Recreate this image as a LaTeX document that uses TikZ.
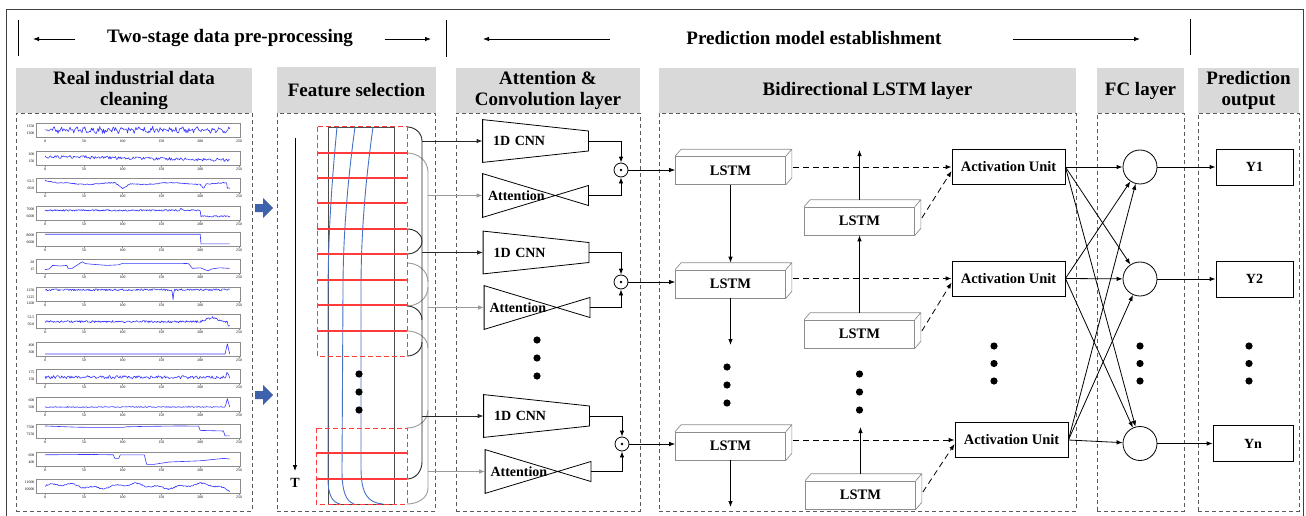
\documentclass[tikz,border=0pt]{standalone}
\usepackage{fontspec}
\setmainfont{Liberation Serif}
\usetikzlibrary{arrows.meta,calc}
\definecolor{hdrgray}{HTML}{D9D9D9}
\definecolor{dashgray}{HTML}{5A5A5A}
\definecolor{redc}{HTML}{FF3B3B}
\definecolor{curveblue}{HTML}{4472C4}
\definecolor{sigblue}{HTML}{3535FF}
\definecolor{arrowblue}{HTML}{3F62AD}
\definecolor{lstmgray}{HTML}{8C8C8C}
\definecolor{brkgray}{HTML}{9A9A9A}
\newcommand\subplt[4]{%
  \draw[axisbox] (36,#1) rectangle (240,#1+14);
  \foreach \v in {0,50,...,250}{%
    \draw[axisbox] ({45+0.776*\v},#1+14) -- ({45+0.776*\v},#1+15.5);
    \node[ticklbl] (tk#1-\v) at ({45+0.776*\v},#1+18.5) {\v};}
  \node[ticklbl,anchor=east] (ya#1) at (35,#1+3.5) {#2};
  \node[ticklbl,anchor=east] (yb#1) at (35,#1+10.5) {#3};
  \begin{scope}[shift={(45,#1+13)},x=0.776pt,y=12pt]
    \draw[sig] #4;
  \end{scope}}
\newcommand\lstmnode[3]{%
  \node[lstmbox] (#1) at (#2,#3) {LSTM};
  \draw[lstmline] (#1.north west) -- ++(6,-7) -- ($(#1.north east)+(6,-7)$) -- ($(#1.south east)+(6,-7)$) -- (#1.south east) (#1.north east) -- ++(6,-7);}
\newcommand\dotcol[3]{\fill (#1,#2) circle (3.6) (#1,#2+#3) circle (3.6) (#1,#2+2*#3) circle (3.6);}
\begin{document}
\begin{tikzpicture}[x=1pt,y=-1pt,>={Latex[length=6pt,width=4.5pt]},line width=0.8pt,
 hdr/.style={fill=hdrgray,inner sep=0pt,align=center,font=\bfseries\fontsize{19}{21}\selectfont},
 ttl/.style={inner sep=0pt,font=\bfseries\fontsize{19}{21}\selectfont},
 panel/.style={draw=dashgray,dash pattern=on 4pt off 3pt,line width=0.8pt,inner sep=0pt},
 frm/.style={draw=black!75,line width=0.9pt},
 axisbox/.style={draw=black!45,line width=0.4pt},
 ticklbl/.style={font=\fontsize{3.8}{4}\selectfont,inner sep=0.3pt},
 sig/.style={draw=sigblue,line width=0.6pt,line join=round},
 lbl/.style={font=\bfseries\fontsize{14}{16}\selectfont},
 cnnbox/.style={lbl,minimum height=42pt,text width=85pt,inner xsep=10pt,inner ysep=0pt,align=left},
 attbox/.style={lbl,minimum height=43pt,text width=95pt,inner xsep=5pt,inner ysep=0pt,align=left},
 shp/.style={draw=black,line width=0.8pt,line join=miter},
 odot/.style={circle,draw,minimum size=14pt,inner sep=0pt},
 lstmbox/.style={draw=lstmgray,line width=0.7pt,minimum width=110pt,minimum height=28pt,inner sep=0pt,font=\bfseries\fontsize{14.5}{16}\selectfont},
 lstmline/.style={draw=lstmgray,line width=0.7pt,line join=round},
 aubox/.style={draw,line width=0.8pt,minimum width=113pt,minimum height=35pt,inner sep=0pt,font=\bfseries\fontsize{14.5}{16}\selectfont},
 fcnode/.style={circle,draw,minimum size=34pt,inner sep=0pt},
 ybox/.style={draw,minimum width=77pt,minimum height=36pt,inner sep=0pt,font=\bfseries\fontsize{14}{16}\selectfont},
 dsh/.style={dash pattern=on 6pt off 4pt},
 redbox/.style={draw=redc,dash pattern=on 5pt off 3pt,line width=1pt},
 redrow/.style={draw=redc,line width=1.3pt},
 bcurve/.style={draw=curveblue,line width=0.9pt},
 brk/.style={draw=black!85,line width=0.9pt},
 brkg/.style={draw=brkgray,line width=0.9pt},
 garrow/.style={draw=brkgray,line width=0.9pt,-{Latex[length=6pt,width=4.5pt]}}]
\useasboundingbox (0,0) rectangle (1306,516);
\pgfmathsetseed{11}
% outer frame
\coordinate (fr1) at (6,516); \coordinate (fr2) at (6,9);
\coordinate (fr3) at (1303,9); \coordinate (fr4) at (1303,516);
\draw[frm] (fr1) -- (fr2) -- (fr3) -- (fr4);
% title row
\node[ttl] (tt1) at (230,38) {Two-stage data pre-processing};
\node[ttl] (tt2) at (814,38) {Prediction model establishment};
\coordinate (a1) at (75,39); \coordinate (a1t) at (33,39);
\coordinate (a2) at (385,39); \coordinate (a2t) at (431,39);
\coordinate (a3) at (610,39); \coordinate (a3t) at (483,39);
\coordinate (a4) at (1013,39); \coordinate (a4t) at (1140,39);
\draw[->] (a1) -- (a1t); \draw[->] (a2) -- (a2t);
\draw[->] (a3) -- (a3t); \draw[->] (a4) -- (a4t);
\coordinate (v1a) at (18,20); \coordinate (v1b) at (18,56);
\coordinate (v2a) at (446,20); \coordinate (v2b) at (446,57);
\coordinate (v3a) at (1190,19); \coordinate (v3b) at (1190,55);
\draw (v1a) -- (v1b); \draw (v2a) -- (v2b); \draw (v3a) -- (v3b);
% headers
\node[hdr,minimum width=236pt,minimum height=45pt] (h1) at (134,90.5) {Real industrial data\\cleaning};
\node[hdr,minimum width=159pt,minimum height=46pt] (h2) at (356.5,90) {Feature selection};
\node[hdr,minimum width=184pt,minimum height=45pt] (h3) at (548,90.5) {Attention \&\\Convolution layer};
\node[hdr,minimum width=417pt,minimum height=45pt] (h4) at (867.5,90.5) {Bidirectional LSTM layer};
\node[hdr,minimum width=87pt,minimum height=45pt] (h5) at (1140.5,90.5) {FC layer};
\node[hdr,minimum width=101pt,minimum height=45pt] (h6) at (1248.5,90.5) {Prediction\\output};
% panels
\node[panel,minimum width=236pt,minimum height=398pt] (p1) at (134,312) {};
\node[panel,minimum width=158pt,minimum height=398pt] (p2) at (356,312) {};
\node[panel,minimum width=184pt,minimum height=398pt] (p3) at (548,312) {};
\node[panel,minimum width=417pt,minimum height=398pt] (p4) at (867.5,312) {};
\node[panel,minimum width=87pt,minimum height=398pt] (p5) at (1140.5,312) {};
\node[panel,minimum width=101pt,minimum height=398pt] (p6) at (1248.5,312) {};
% ---- data plots
\subplt{123}{1350}{1300}{plot[domain=0:238,samples=200] (\x,{0.5+0.1*sin(\x*37)+0.22*rand})}
\subplt{151}{200}{150}{plot[domain=0:238,samples=200] (\x,{0.62-0.0012*\x+0.13*rand+0.25*max(0,1-abs(\x-48)/5)})}
\subplt{178}{62.5}{60.0}{plot[domain=0:238,samples=239] (\x,{0.62+0.25*max(0,1-\x/15)+0.07*sin(\x*5)-0.45*max(0,1-abs(\x-100)/10)-0.35*max(0,1-abs(\x-204)/4)-0.45*(\x>234)+0.04*rand})}
\subplt{206}{7000}{6000}{plot[domain=0:238,samples=239] (\x,{0.72+0.07*rand-0.5*(\x>200)+0.2*max(0,1-abs(\x-176)/2)})}
\subplt{232}{8000}{6000}{plot[domain=0:238,samples=239] (\x,{0.9-0.8*(\x>200)})}
\subplt{259}{20}{15}{plot coordinates {(0,0.2) (5,0.25) (10,0.55) (20,0.5) (28,0.55) (30,0.3) (35,0.3) (42,0.6) (48,0.85) (52,0.7) (60,0.65) (80,0.55) (95,0.6) (100,0.72) (175,0.72) (185,0.7) (190,0.3) (200,0.35) (210,0.1) (215,0.25) (225,0.35) (238,0.3)}}
\subplt{287}{1250}{1225}{plot[domain=0:238,samples=239] (\x,{0.85+0.08*rand-0.85*max(0,1-abs(\x-165)/1.5)})}
\node[ticklbl,anchor=east] (yc287) at (35,303) {1200};
\subplt{314}{52.5}{50.0}{plot[domain=0:238,samples=239] (\x,{0.45+0.09*rand+0.35*max(0,1-abs(\x-215)/15)-0.4*(\x>235)})}
\subplt{342}{400}{300}{plot[domain=0:238,samples=239] (\x,{0.08+0.85*max(0,1-abs(\x-235)/3)})}
\subplt{369}{175}{150}{plot[domain=0:238,samples=200] (\x,{0.4+0.13*rand+0.45*max(0,1-abs(\x-235)/3)})}
\subplt{397}{600}{500}{plot[domain=0:238,samples=239] (\x,{0.25+0.04*rand+0.7*max(0,1-abs(\x-235)/3)})}
\subplt{424}{7500}{7250}{plot coordinates {(0,0.92) (40,0.82) (60,0.8) (100,0.8) (105,0.85) (125,0.88) (175,0.92) (198,0.9) (200,0.55) (230,0.5) (232,0.1) (238,0.1)}}
\subplt{452}{600}{400}{plot coordinates {(0,0.85) (60,0.88) (88,0.85) (90,0.55) (95,0.55) (97,0.85) (128,0.85) (131,0.05) (140,0.05) (160,0.25) (200,0.35) (230,0.55) (238,0.5)}}
\subplt{479}{11000}{10000}{plot[domain=0:238,samples=239] (\x,{0.5+0.15*sin(\x*4)+0.1*sin(\x*13)+0.05*rand-0.3*max(0,(\x-215)/23)})}
% blue block arrows
\fill[arrowblue] (255,204) -- (263,204) -- (263,198) -- (273,208) -- (263,218) -- (263,212) -- (255,212) -- cycle;
\fill[arrowblue] (255,391) -- (263,391) -- (263,385) -- (273,395) -- (263,405) -- (263,399) -- (255,399) -- cycle;
% ---- feature selection
\coordinate (ts) at (295,138); \coordinate (te) at (295,471);
\draw[->] (ts) -- (te);
\node[lbl] (tlab) at (295,483) {T};
\draw[draw=black!70] (328,127) rectangle (394,504);
\draw[bcurve] (337,127) .. controls (331,190) and (328,240) .. (328,300) -- (328,478) .. controls (328,495) and (332,502) .. (340,504);
\draw[bcurve] (355,127) .. controls (347,185) and (343,240) .. (343,290) -- (342,470) .. controls (342,492) and (346,501) .. (354,504);
\draw[bcurve] (373,127) .. controls (365,185) and (361,235) .. (361,290) -- (361,468) .. controls (361,494) and (368,503) .. (383,504);
\dotcol{359}{374}{18}
% brackets
\draw[brkg] (407,153) to[out=0,in=90] (428,172) -- (428,488) to[out=-90,in=0] (407,504);
\draw[brkg] (407,263) to[out=0,in=90] (428,282);
\draw[brkg] (428,287) to[out=-90,in=0] (407,306);
\draw[brkg] (407,331) to[out=0,in=90] (428,348);
\draw[brkg] (407,428) to[out=0,in=-90] (428,410);
\draw[brk] (407,127) to[out=0,in=90] (422,141) -- (422,462) to[out=-90,in=0] (407,479);
\draw[brk] (407,229) to[out=0,in=90] (422,241) to[out=-90,in=0] (407,254);
\draw[brk] (407,306) to[out=0,in=90] (422,320);
\draw[brk] (422,342) to[out=-90,in=0] (407,356);
% red rows
\draw[redrow] (317,153) -- (407,153) (317,178) -- (407,178) (317,203) -- (407,203) (317,229) -- (407,229) (317,254) -- (407,254) (317,280) -- (407,280) (317,305) -- (407,305) (317,331) -- (407,331) (317,453) -- (407,453) (317,479) -- (407,479);
\draw[redbox] (317,127) rectangle (407,356);
\draw[redbox] (316,428) rectangle (407,504);
\coordinate (bk1) at (422,141); \coordinate (bg1) at (428,195.5);
\coordinate (bk2) at (422,252.5); \coordinate (bg2) at (428,307.5);
\coordinate (bk3) at (422,416); \coordinate (bg3) at (428,471.5);
% ---- attention & convolution
\node[cnnbox] (cnn1) at (535.5,141) {1D CNN};
\node[attbox] (att1) at (535.5,195.5) {Attention};
\node[cnnbox] (cnn2) at (536,252.5) {1D CNN};
\node[attbox] (att2) at (537,307.5) {Attention};
\node[cnnbox] (cnn3) at (536.5,416) {1D CNN};
\node[attbox] (att3) at (538,471.5) {Attention};
\foreach \n in {cnn1,cnn2,cnn3}{\draw[shp] (\n.north west) -- ($(\n.east)+(0,-10)$) -- ($(\n.east)+(0,10)$) -- (\n.south west) -- cycle;}
\foreach \n in {att1,att2,att3}{\draw[shp] (\n.north west) -- ($(\n.east)+(0,10)$) -- ($(\n.east)+(0,-10)$) -- (\n.south west) -- cycle;}
\draw[->,brk] (bk1) -- (cnn1.west);
\draw[->,brk] (bk2) -- (cnn2.west);
\draw[->,brk] (bk3) -- (cnn3.west);
\draw[garrow] (bg1) -- (att1.west);
\draw[garrow] (bg2) -- (att2.west);
\draw[garrow] (bg3) -- (att3.west);
\node[odot] (o1) at (621,170) {};
\node[odot] (o2) at (621,282) {};
\node[odot] (o3) at (622,444) {};
\foreach \n in {o1,o2,o3}{\fill (\n.center) circle (1.3);}
\draw[->] (cnn1.east) -| (o1.north); \draw[->] (att1.east) -| (o1.south);
\draw[->] (cnn2.east) -| (o2.north); \draw[->] (att2.east) -| (o2.south);
\draw[->] (cnn3.east) -| (o3.north); \draw[->] (att3.east) -| (o3.south);
\dotcol{537}{340}{18}
% ---- bidirectional LSTM
\lstmnode{L1}{730.5}{170.5}
\lstmnode{L2}{730.5}{284}
\lstmnode{L3}{730.5}{446}
\lstmnode{M1}{859.5}{221}
\lstmnode{M2}{859.5}{334}
\lstmnode{M3}{860.5}{495}
\node[aubox] (AU1) at (1008.5,167) {Activation Unit};
\node[aubox] (AU2) at (1008.5,278.5) {Activation Unit};
\node[aubox] (AU3) at (1011.5,440) {Activation Unit};
\draw[->] (o1.east) -- (o1.east -| L1.west);
\draw[->] (o2.east) -- (o2.east -| L2.west);
\draw[->] (o3.east) -- (o3.east -| L3.west);
\coordinate (l2dn) at (730.5,345); \coordinate (l3dn) at (730.5,507);
\coordinate (m1up) at (859.5,150); \coordinate (m3up) at (860.5,427);
\draw[->] (L1.south) -- ($(L2.north)+(0,-7)$);
\draw[->] (L2.south) -- (l2dn);
\draw[->] (L3.south) -- (l3dn);
\draw[->] ($(M1.north)+(0,-7)$) -- (m1up);
\draw[->] ($(M2.north)+(0,-7)$) -- (M1.south);
\draw[->] ($(M3.north)+(0,-7)$) -- (m3up);
\draw[->,dsh] (AU1.west -| L1.east) ++(7,0) -- (AU1.west);
\draw[->,dsh] (AU2.west -| L2.east) ++(7,0) -- (AU2.west);
\draw[->,dsh] (AU3.west -| L3.east) ++(7,0) -- (AU3.west);
\draw[->,dsh] ($(M1.east)+(7,-3)$) -- ($(AU1.west)+(0,4)$);
\draw[->,dsh] ($(M2.east)+(7,-3)$) -- ($(AU2.west)+(0,4)$);
\draw[->,dsh] ($(M3.east)+(7,-3)$) -- ($(AU3.west)+(0,4)$);
\dotcol{727}{367}{18}
\dotcol{859.5}{374}{18}
\dotcol{994}{346}{17.5}
% ---- FC layer
\node[fcnode] (f1) at (1140,167) {};
\node[fcnode] (f2) at (1140,279) {};
\node[fcnode] (f3) at (1140,443.5) {};
\foreach \a in {AU1,AU2,AU3}{\foreach \f in {f1,f2,f3}{\draw[->] (\a.east) -- (\f);}}
\dotcol{1140}{346}{17.5}
% ---- outputs
\node[ybox] (y1) at (1254.5,167) {Y1};
\node[ybox] (y2) at (1254.5,279) {Y2};
\node[ybox,minimum width=80pt] (yn) at (1253,443.5) {Yn};
\draw[->] (f1.east) -- (y1.west);
\draw[->] (f2.east) -- (y2.west);
\draw[->] (f3.east) -- (yn.west);
\dotcol{1249}{346}{17.5}
\end{tikzpicture}
\end{document}
